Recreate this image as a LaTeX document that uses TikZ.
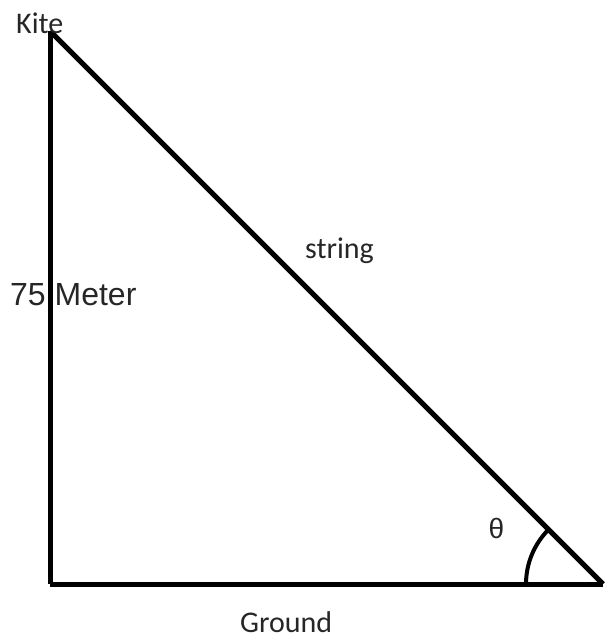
\documentclass[tikz,border=0pt]{standalone}
\usepackage{fontspec}
\setmainfont{Liberation Sans}
\newfontfamily\calfont{Carlito}
\begin{document}
\begin{tikzpicture}[x=1pt,y=-1pt,
  edge/.style={line width=5pt, line cap=butt},
  lbl/.style={inner sep=0pt, text=black!85},
  cal/.style={lbl, font=\calfont\fontsize{30}{36}\selectfont},
  ari/.style={lbl, font=\fontsize{32}{38}\selectfont}]
\useasboundingbox (0,0) rectangle (605,640);
\coordinate (K) at (50,31);
\coordinate (O) at (50,584);
\coordinate (G) at (603,584);
\draw[edge] (K) -- (O);
\draw[edge] (O) -- (G);
\draw[edge] (K) -- (G);
\draw[line width=4pt] (G) ++(225:77) arc[start angle=225, end angle=180, radius=77];
\node[cal, anchor=base west] (kite) at (16,33) {Kite};
\node[cal, anchor=base west] (str) at (305,258) {string};
\node[cal, anchor=base west] (gr) at (240,632) {Ground};
\node[ari, anchor=base west] (h) at (10,305) {75 Meter};
\node[lbl, font=\fontsize{28}{32}\selectfont] (th) at (496.5,528) {θ};
\end{tikzpicture}
\end{document}
